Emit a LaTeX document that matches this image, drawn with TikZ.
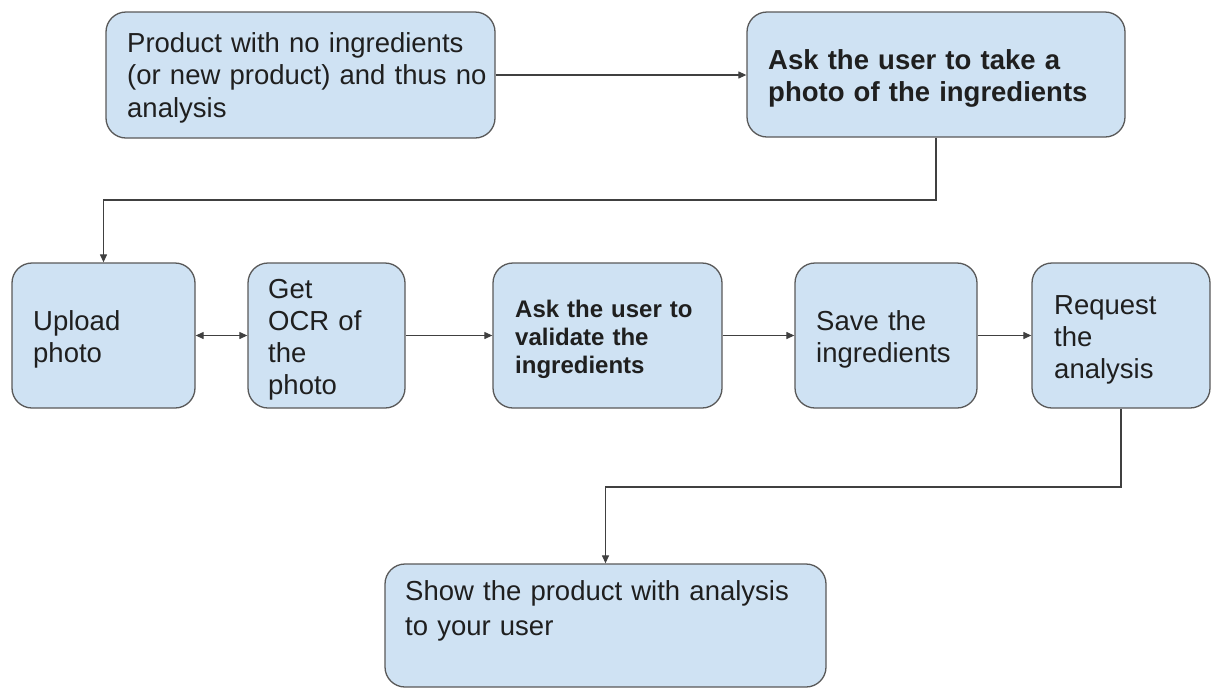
\documentclass[tikz,border=0pt]{standalone}
\usepackage{fontspec}
\setmainfont{Liberation Sans}
\usetikzlibrary{arrows.meta}
\definecolor{boxfill}{HTML}{CFE2F3}
\definecolor{boxline}{HTML}{595959}
\definecolor{lineclr}{HTML}{404040}
\definecolor{txtclr}{HTML}{1F1F1F}
\begin{document}
\begin{tikzpicture}[x=1pt,y=-1pt,
  box/.style={draw=boxline, fill=boxfill, line width=1.3pt, rounded corners=20pt, inner sep=0pt},
  txt/.style={anchor=base west, inner sep=0pt, align=left, text width=440pt, text=txtclr,
    font=\fontsize{27.5}{32.5}\selectfont},
  txtb/.style={txt, font=\fontsize{27.5}{32}\selectfont\bfseries},
  txts/.style={txt, font=\fontsize{24}{28}\selectfont\bfseries},
  conn/.style={draw=lineclr, line width=1.2pt, -{Triangle[length=8pt,width=7pt]}},
  conn2/.style={draw=lineclr, line width=1.2pt, {Triangle[length=8pt,width=7pt]}-{Triangle[length=8pt,width=7pt]}}]
\useasboundingbox (0,0) rectangle (1212,689);
% boxes
\node[box, minimum width=389pt, minimum height=126pt] (a) at (300.5,75) {};
\node[box, minimum width=378pt, minimum height=125pt] (b) at (936,74.5) {};
\node[box, minimum width=183pt, minimum height=145pt] (c) at (103.5,335.5) {};
\node[box, minimum width=157pt, minimum height=145pt] (d) at (326.5,335.5) {};
\node[box, minimum width=229pt, minimum height=145pt] (e) at (607.5,335.5) {};
\node[box, minimum width=182pt, minimum height=145pt] (f) at (886,335.5) {};
\node[box, minimum width=178pt, minimum height=145pt] (g) at (1121,335.5) {};
\node[box, minimum width=441pt, minimum height=123pt] (h) at (605.5,625.5) {};
% texts
\node[txt] (ta) at (127,52) {Product with no ingredients\\(or new product) and thus no\\analysis};
\node[txtb] (tb) at (768,69) {Ask the user to take a\\photo of the ingredients};
\node[txt] (tc) at (33,330) {Upload\\photo};
\node[txt, font=\fontsize{27.5}{32}\selectfont] (td) at (268,298) {Get\\OCR of\\the\\photo};
\node[txts] (te) at (515,317) {Ask the user to\\validate the\\ingredients};
\node[txt, font=\fontsize{27.5}{32}\selectfont] (tf) at (816,330) {Save the\\ingredients};
\node[txt, font=\fontsize{27.5}{32}\selectfont] (tg) at (1054,314) {Request\\the\\analysis};
\node[txt, font=\fontsize{27.5}{35}\selectfont] (th) at (405,600) {Show the product with analysis\\to your user};
% connectors
\coordinate (k1) at (520,200);
\coordinate (k2) at (860,487);
\draw[conn] (a.east) -- (a.east -| b.west);
\draw[conn] (b.south) |- (k1) -| (c.north);
\draw[conn2] (c.east) -- (d.west);
\draw[conn] (d.east) -- (e.west);
\draw[conn] (e.east) -- (f.west);
\draw[conn] (f.east) -- (g.west);
\draw[conn] (g.south) |- (k2) -| (h.north);
\end{tikzpicture}
\end{document}
